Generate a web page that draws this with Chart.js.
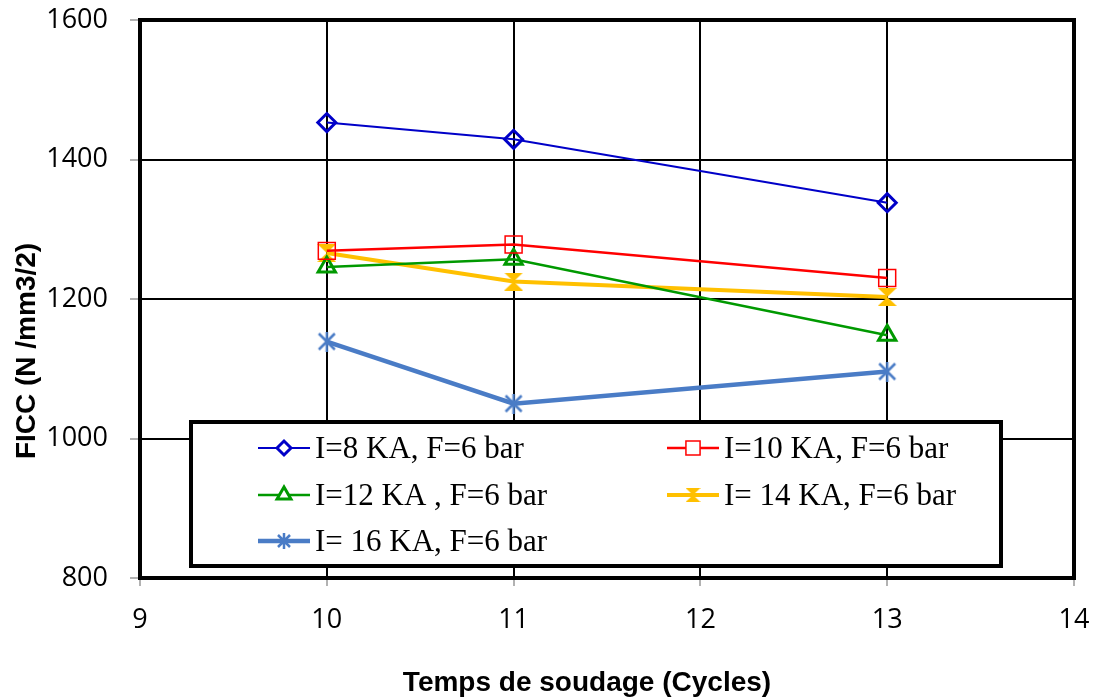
<!DOCTYPE html>
<html>
<head>
<meta charset="utf-8">
<script src="https://cdn.jsdelivr.net/npm/chart.js@4.4.0/dist/chart.umd.min.js"></script>
<style>
  html, body { margin: 0; padding: 0; background: #fff; }
  #wrap { width: 1094px; height: 700px; position: relative; }
</style>
</head>
<body>
<div id="wrap"><canvas id="myChart"></canvas></div>
<script>
// data
const cycles = [10, 11, 13];
const ficcI8 = [1453, 1429, 1338];
const ficcI10 = [1269, 1278, 1230];
const ficcI12 = [1246, 1257, 1148];
const ficcI14 = [1266, 1225, 1203];
const ficcI16 = [1139, 1050, 1096];
const seriesNames = ['I=8 KA, F=6 bar', 'I=10 KA, F=6 bar', 'I=12 KA , F=6 bar', 'I= 14 KA, F=6 bar', 'I= 16 KA, F=6 bar'];
const xTicks = [9, 10, 11, 12, 13, 14];
const yTicks = [800, 1000, 1200, 1400, 1600];

const toPoints = vals => vals.map((v, i) => ({ x: cycles[i], y: v }));

// custom markers
function hourglass(color, w, h) {
  const c = document.createElement('canvas');
  c.width = w; c.height = h;
  const g = c.getContext('2d');
  g.fillStyle = color;
  g.beginPath();
  g.moveTo(0, 0); g.lineTo(w, 0); g.lineTo(0, h); g.lineTo(w, h);
  g.closePath();
  g.fill();
  return c;
}
function asterisk(color, s, lw) {
  const c = document.createElement('canvas');
  c.width = s; c.height = s;
  const g = c.getContext('2d');
  g.strokeStyle = color;
  g.lineWidth = lw;
  g.beginPath();
  g.moveTo(2, 2); g.lineTo(s - 2, s - 2);
  g.moveTo(s - 2, 2); g.lineTo(2, s - 2);
  g.moveTo(s / 2, 0); g.lineTo(s / 2, s);
  g.stroke();
  return c;
}

const yellowMark = hourglass('#FFC000', 19, 18);
const yellowMarkSmall = hourglass('#FFC000', 15, 14);
const starMark = asterisk('#4A7CC6', 20, 2.5);
const starMarkSmall = asterisk('#4A7CC6', 16, 2.5);

const datasets = [
  { label: seriesNames[0], data: toPoints(ficcI8), borderColor: '#0000C8', backgroundColor: 'rgba(255,255,255,0)',
    borderWidth: 2, pointStyle: 'rectRot', pointRadius: 9, pointBorderWidth: 3, legendStyle: 'rectRot', legendRadius: 7 },
  { label: seriesNames[1], data: toPoints(ficcI10), borderColor: '#FF0000', backgroundColor: 'rgba(255,255,255,0)',
    borderWidth: 2.5, pointStyle: 'rect', pointRadius: 12, pointBorderWidth: 1.5, legendStyle: 'rect', legendRadius: 10 },
  { label: seriesNames[2], data: toPoints(ficcI12), borderColor: '#009900', backgroundColor: 'rgba(255,255,255,0)',
    borderWidth: 2.5, pointStyle: 'triangle', pointRadius: 10, pointBorderWidth: 3, legendStyle: 'triangle', legendRadius: 8 },
  { label: seriesNames[3], data: toPoints(ficcI14), borderColor: '#FFC000', backgroundColor: '#FFC000',
    borderWidth: 4, pointStyle: yellowMark, pointRadius: 10, pointBorderWidth: 0, legendStyle: yellowMarkSmall, legendRadius: 8 },
  { label: seriesNames[4], data: toPoints(ficcI16), borderColor: '#4A7CC6', backgroundColor: '#4A7CC6',
    borderWidth: 4.5, pointStyle: starMark, pointRadius: 10, pointBorderWidth: 0, legendStyle: starMarkSmall, legendRadius: 8 }
];

// frame, legend box and axis titles
const extras = {
  id: 'extras',
  beforeDatasetsDraw(chart) {
    const { ctx, chartArea: a } = chart;
    ctx.save();
    ctx.strokeStyle = '#000';
    ctx.lineWidth = 4;
    ctx.strokeRect(a.left, a.top, a.right - a.left, a.bottom - a.top);
    ctx.restore();
  },
  afterDatasetsDraw(chart) {
    const ctx = chart.ctx;
    ctx.save();
    ctx.fillStyle = '#fff';
    ctx.fillRect(191, 422, 810, 144);
    ctx.strokeStyle = '#000';
    ctx.lineWidth = 4;
    ctx.strokeRect(191, 422, 810, 144);

    const slots = [[258, 448], [667, 448], [258, 495], [667, 495], [258, 541]];
    chart.data.datasets.forEach((ds, i) => {
      const [lx, ly] = slots[i];
      ctx.strokeStyle = ds.borderColor;
      ctx.lineWidth = ds.borderWidth;
      ctx.beginPath();
      ctx.moveTo(lx, ly);
      ctx.lineTo(lx + 52, ly);
      ctx.stroke();
      ctx.fillStyle = '#fff';
      ctx.strokeStyle = ds.borderColor;
      ctx.lineWidth = ds.pointBorderWidth;
      Chart.helpers.drawPoint(ctx, { pointStyle: ds.legendStyle, radius: ds.legendRadius, rotation: 0, borderWidth: ds.pointBorderWidth }, lx + 26, ly);
      ctx.fillStyle = '#000';
      ctx.font = '31px "Liberation Serif"';
      ctx.textBaseline = 'alphabetic';
      ctx.textAlign = 'left';
      ctx.fillText(ds.label, lx + 57, ly + 10);
    });
    ctx.restore();
  },
  afterDraw(chart) {
    const ctx = chart.ctx;
    ctx.save();
    ctx.fillStyle = '#000';
    ctx.font = 'bold 28px "Liberation Sans"';
    ctx.textAlign = 'center';
    ctx.textBaseline = 'middle';
    ctx.fillText('Temps de soudage (Cycles)', 587, 683);
    ctx.translate(27, 351);
    ctx.rotate(-Math.PI / 2);
    ctx.fillText('FICC (N /mm3/2)', 0, 0);
    ctx.restore();
  }
};

const ctx = document.getElementById('myChart').getContext('2d');
const myChart = new Chart(ctx, {
  type: 'line',
  data: { datasets: datasets },
  plugins: [extras],
  options: {
    responsive: true,
    maintainAspectRatio: false,
    animation: false,
    layout: { padding: { left: 0, right: 20, top: 20, bottom: 0 } },
    plugins: { legend: { display: false }, tooltip: { enabled: false } },
    elements: { line: { tension: 0 } },
    scales: {
      x: {
        type: 'linear',
        min: 9, max: 14,
        afterFit: s => { s.height = 122; s.paddingLeft = 0; s.paddingRight = 0; },
        afterBuildTicks: s => { s.ticks = xTicks.map(v => ({ value: v })); },
        grid: { color: '#000', lineWidth: 2, tickColor: '#999', tickLength: 8, tickWidth: 1.5 },
        border: { display: false },
        ticks: { color: '#000', padding: 18, font: { family: '"Open Sans"', size: 27 }, callback: v => String(v) }
      },
      y: {
        min: 800, max: 1600,
        afterFit: s => { s.width = 140; s.paddingTop = 0; s.paddingBottom = 0; },
        afterBuildTicks: s => { s.ticks = yTicks.map(v => ({ value: v })); },
        grid: { color: '#000', lineWidth: 2, tickColor: '#999', tickLength: 10, tickWidth: 1.5 },
        border: { display: false },
        ticks: { color: '#000', padding: 22, font: { family: '"Open Sans"', size: 27 }, callback: v => String(v) }
      }
    }
  }
});
</script>
</body>
</html>
